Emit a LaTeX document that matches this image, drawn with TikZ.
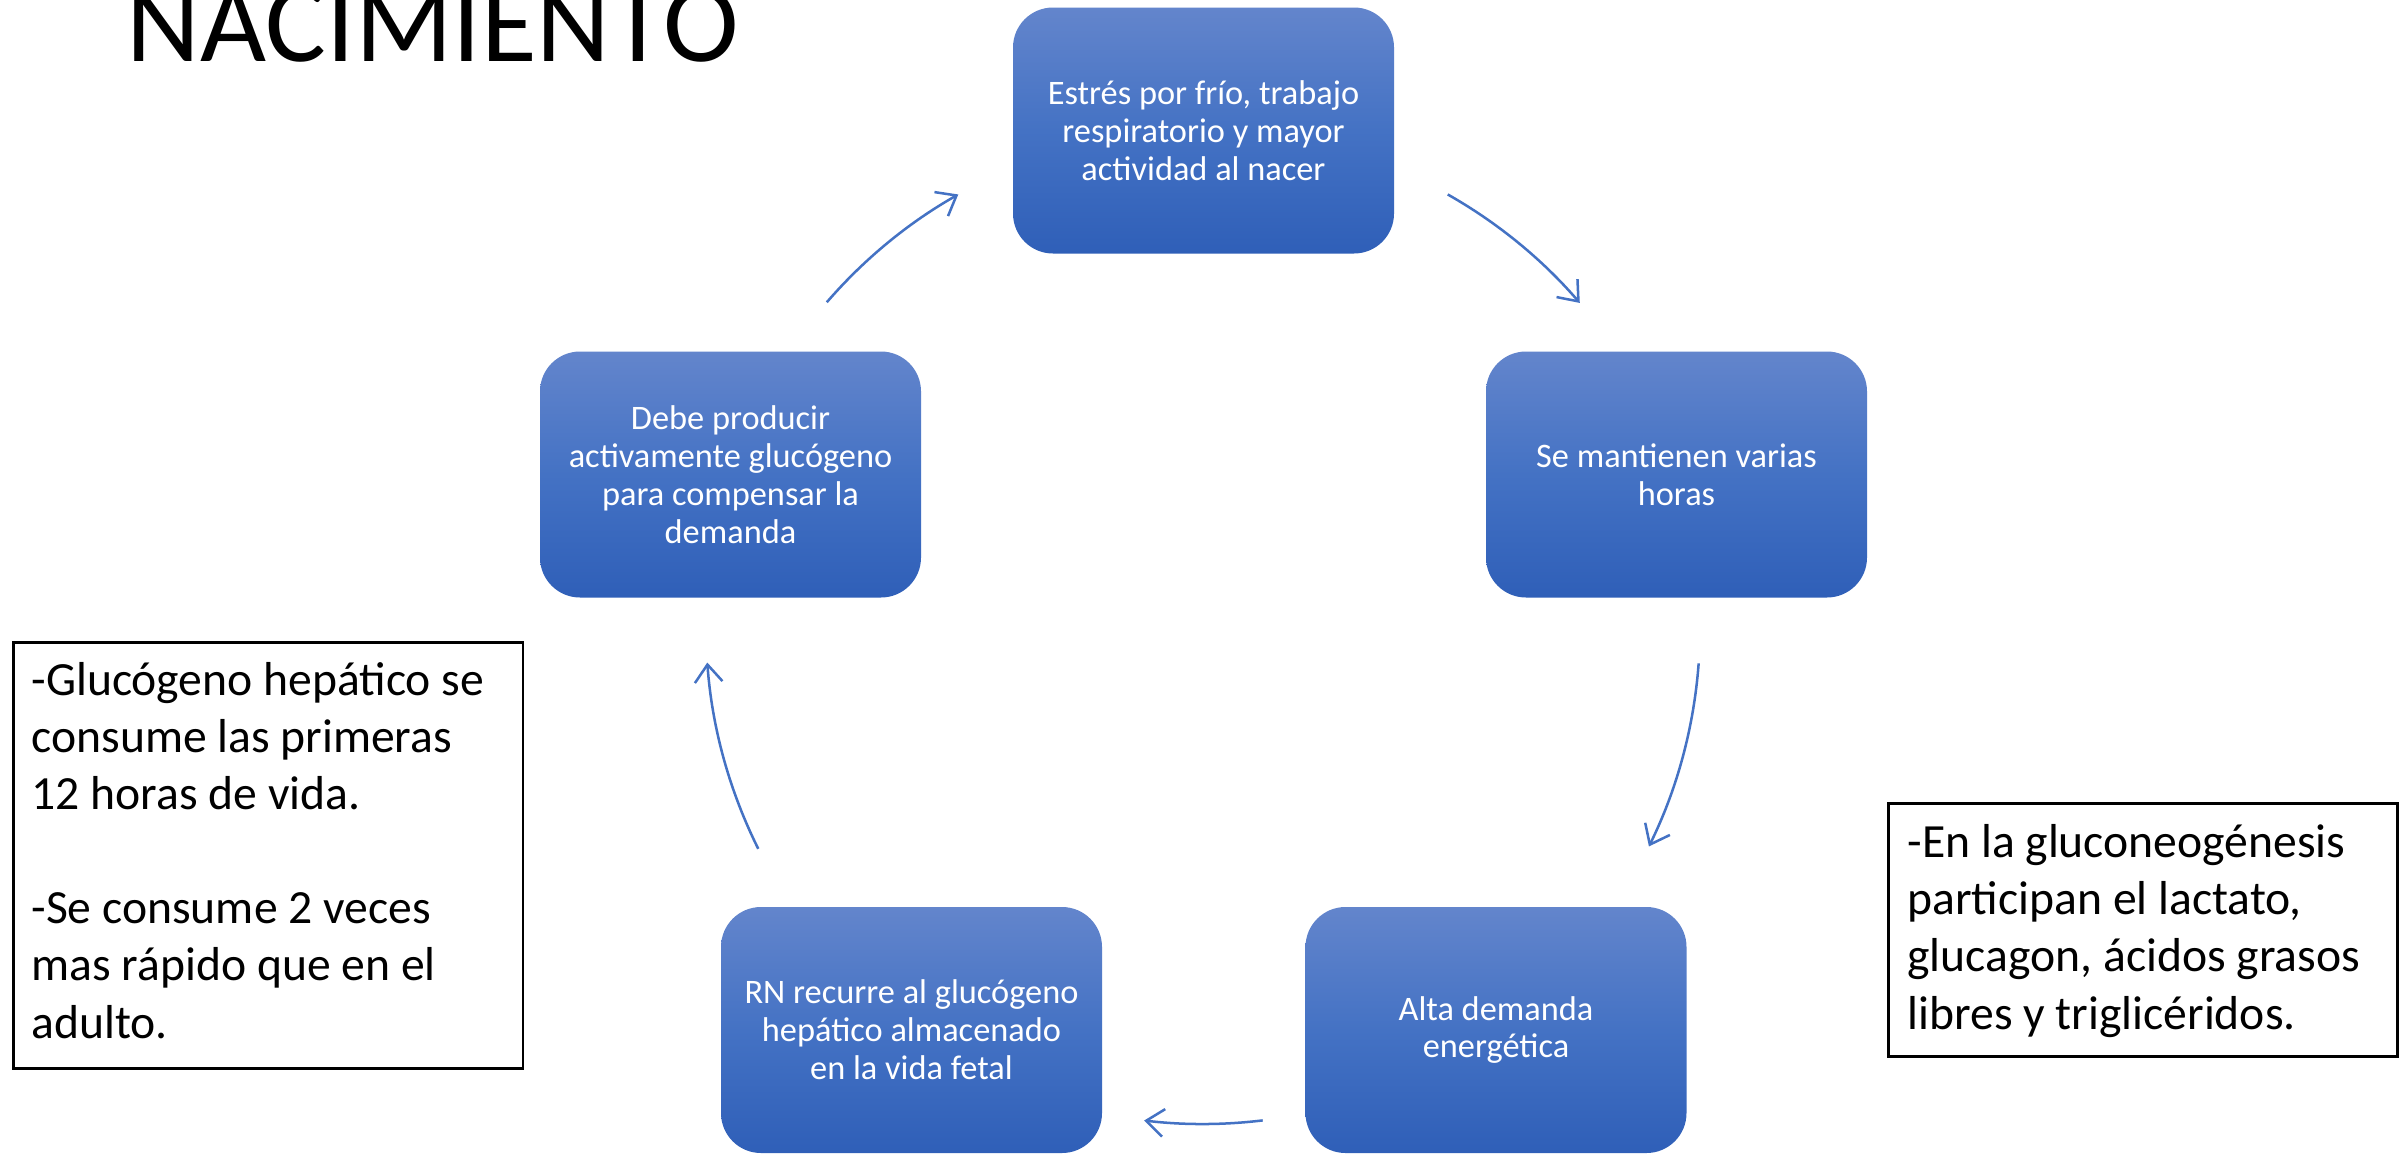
\documentclass[tikz,border=0pt]{standalone}
\usepackage{fontspec}
\setmainfont{Carlito}
\usetikzlibrary{arrows.meta}
\definecolor{topc}{RGB}{99,133,204}
\definecolor{midc}{RGB}{68,114,196}
\definecolor{botc}{RGB}{47,95,184}
\definecolor{arrc}{RGB}{68,114,196}
\tikzset{
  cbox/.style={rectangle, rounded corners=15.95pt, minimum width=151.96pt,
    minimum height=98.11pt, top color=topc, bottom color=botc, middle color=midc,
    text=white, align=center, font=\fontsize{13.7}{15.1}\selectfont, inner sep=0pt, draw=none},
  cyc/.style={draw=arrc, line width=1pt, -{Straight Barb[length=7pt,width=11pt]}},
  frame/.style={draw=black, line width=1pt, inner sep=0pt, anchor=north west},
  side/.style={anchor=base west, align=left, inner sep=0pt, font=\fontsize{19}{22.8}\selectfont}
}
\begin{document}
\begin{tikzpicture}[x=0.39884pt, y=-0.39884pt]
\useasboundingbox[fill=white] (0,0) rectangle (2407,1153);
% title
\node[anchor=base west, inner sep=0pt, font=\fontsize{45.5}{52}\selectfont] (title) at (126,61) {NACIMIENTO};
% cycle boxes
\node[cbox] (top) at (1203.5,130.5) {Estrés por frío, trabajo\\respiratorio y mayor\\actividad al nacer};
\node[cbox] (right) at (1676.5,474.5) {Se mantienen varias\\horas};
\node[cbox] (br) at (1496,1030) {Alta demanda\\energética};
\node[cbox] (bl) at (911.5,1030) {RN recurre al glucógeno\\hepático almacenado\\en la vida fetal};
\node[cbox] (left) at (730.5,474.5) {Debe producir\\activamente glucógeno\\para compensar la\\demanda};
% arrows (arcs on the cycle circle)
\coordinate (ctr) at (1203,627);
\path (ctr) ++(299.5:497) coordinate (a1);
\path (ctr) ++(4.2:497) coordinate (a2);
\path (ctr) ++(83.1:497) coordinate (a3);
\path (ctr) ++(153.5:497) coordinate (a4);
\path (ctr) ++(220.8:497) coordinate (a5);
\draw[cyc] (a1) arc[start angle=299.5, end angle=319.3, radius=497];
\draw[cyc] (a2) arc[start angle=4.2, end angle=26.2, radius=497];
\draw[cyc] (a3) arc[start angle=83.1, end angle=96.8, radius=497];
\draw[cyc] (a4) arc[start angle=153.5, end angle=175.9, radius=497];
\draw[cyc] (a5) arc[start angle=220.8, end angle=240.5, radius=497];
% side text boxes (base anchor = last line)
\node[frame, minimum width=203.4pt, minimum height=169.9pt] (lframe) at (12,641) {};
\node[side] (ltext) at (31,1038) {-Glucógeno hepático se\\consume las primeras\\12 horas de vida.\\[22.8pt]-Se consume 2 veces\\mas rápido que en el\\adulto.};
\node[frame, minimum width=203.0pt, minimum height=100.9pt] (rframe) at (1887,802) {};
\node[side] (rtext) at (1907,1029) {-En la gluconeogénesis\\participan el lactato,\\glucagon, ácidos grasos\\libres y triglicéridos.};
\end{tikzpicture}
\end{document}
